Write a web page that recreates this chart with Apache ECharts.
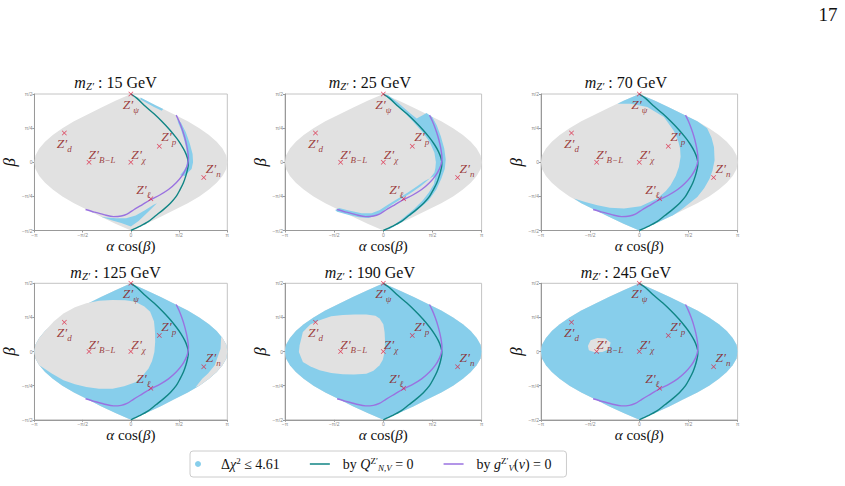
<!DOCTYPE html>
<html>
<head>
<meta charset="utf-8">
<script src="https://cdn.jsdelivr.net/npm/echarts@6/dist/echarts.min.js"></script>
<style>
html, body { margin: 0; padding: 0; background: #fff; }
#main { width: 845px; height: 486px; }
</style>
</head>
<body>
<div id="main"></div>
<script>
var chart = echarts.init(document.getElementById('main'), null, { renderer: 'svg' });

// all x values are alpha*cos(beta) in units of pi, all y values are beta in units of pi
var massLabels = ['15', '25', '70', '125', '190', '245'];
var xTicks = { '-1': '−π', '-0.5': '−π/2', '0': '0', '0.5': 'π/2', '1': 'π' };
var yTicks = { '-0.5': '−π/2', '-0.25': '−π/4', '0': '0', '0.25': 'π/4', '0.5': 'π/2' };

// outline of the scanned (alpha, beta) plane
var domainOutline = [
  [0, 0.5], [0.16, 0.45], [0.31, 0.4], [0.45, 0.35], [0.59, 0.3], [0.71, 0.25], [0.81, 0.2],
  [0.89, 0.15], [0.95, 0.1], [0.99, 0.05], [1, 0], [0.99, -0.05], [0.95, -0.1], [0.89, -0.15],
  [0.81, -0.2], [0.71, -0.25], [0.59, -0.3], [0.45, -0.35], [0.31, -0.4], [0.16, -0.45], [0, -0.5],
  [-0.16, -0.45], [-0.31, -0.4], [-0.45, -0.35], [-0.59, -0.3], [-0.71, -0.25], [-0.81, -0.2],
  [-0.89, -0.15], [-0.95, -0.1], [-0.99, -0.05], [-1, 0], [-0.99, 0.05], [-0.95, 0.1], [-0.89, 0.15],
  [-0.81, 0.2], [-0.71, 0.25], [-0.59, 0.3], [-0.45, 0.35], [-0.31, 0.4], [-0.16, 0.45]
];

// Q_{N,V} = 0 curve
var tealCurve = [
  [0, 0.5], [0.064, 0.468], [0.15, 0.41], [0.24, 0.355], [0.32, 0.3], [0.4, 0.24], [0.47, 0.18],
  [0.52, 0.13], [0.56, 0.08], [0.585, 0.035], [0.595, 0], [0.595, -0.02], [0.585, -0.06],
  [0.57, -0.1], [0.545, -0.15], [0.51, -0.2], [0.47, -0.25], [0.41, -0.3], [0.34, -0.345],
  [0.26, -0.39], [0.18, -0.435], [0.09, -0.47], [0, -0.5]
];

// g_V(nu) = 0 curve
var purpleCurve = [
  [0.47, 0.345], [0.5, 0.3], [0.53, 0.245], [0.555, 0.19], [0.575, 0.135], [0.59, 0.08],
  [0.597, 0.03], [0.59, -0.01], [0.57, -0.05], [0.53, -0.1], [0.47, -0.15], [0.39, -0.2],
  [0.3, -0.24], [0.21, -0.272], [0.12, -0.31], [0.03, -0.348], [-0.04, -0.38], [-0.1, -0.394],
  [-0.18, -0.398], [-0.28, -0.384], [-0.38, -0.365], [-0.47, -0.346]
];

// benchmark models
var zNames = ['ψ', 'd', 'B−L', 'χ', 'p', 'n', 'ℓ'];
var zX = [0, -0.69, -0.434, 0, 0.295, 0.756, 0.207];
var zBeta = [0.5, 0.214, 0, 0, 0.117, -0.112, -0.268];

// Δχ² ≤ 4.61 regions
var blue15 = [
  [[0.1, 0.475], [0.18, 0.445], [0.26, 0.415], [0.335, 0.39], [0.32, 0.378], [0.24, 0.405], [0.16, 0.435], [0.1, 0.46]],
  [[0.48, 0.32], [0.52, 0.29], [0.57, 0.22], [0.61, 0.14], [0.64, 0.06], [0.645, 0], [0.63, -0.05], [0.6, -0.07],
   [0.56, -0.1], [0.51, -0.095], [0.55, -0.06], [0.575, -0.03], [0.585, 0.02], [0.575, 0.1], [0.55, 0.17], [0.52, 0.24], [0.49, 0.29]],
  [[-0.31, -0.4], [-0.2, -0.425], [-0.1, -0.445], [0, -0.47], [0.08, -0.43], [0.17, -0.37], [0.27, -0.3], [0.24, -0.31],
   [0.15, -0.35], [0.05, -0.39], [-0.05, -0.41], [-0.15, -0.41], [-0.25, -0.405]]
];
var blue25 = [
  [[0, 0.5], [0.1, 0.44], [0.2, 0.375], [0.3, 0.3], [0.4, 0.22], [0.47, 0.15], [0.52, 0.07], [0.535, 0], [0.53, -0.04],
   [0.52, -0.075], [0.47, -0.12], [0.38, -0.175], [0.28, -0.225], [0.18, -0.27], [0.08, -0.315], [0, -0.355],
   [-0.07, -0.39], [-0.15, -0.408], [-0.25, -0.403], [-0.35, -0.386], [-0.47, -0.362], [-0.49, -0.35], [-0.45, -0.336],
   [-0.35, -0.354], [-0.22, -0.374], [-0.12, -0.374], [-0.04, -0.352], [0.05, -0.31], [0.15, -0.265], [0.25, -0.222],
   [0.34, -0.178], [0.42, -0.138], [0.5, -0.108], [0.53, -0.1], [0.515, -0.16], [0.465, -0.22], [0.4, -0.28],
   [0.31, -0.345], [0.2, -0.41], [0.1, -0.465], [0, -0.5], [0.06, -0.49], [0.2, -0.432], [0.33, -0.36], [0.46, -0.28],
   [0.54, -0.2], [0.59, -0.12], [0.625, -0.05], [0.635, 0.02], [0.62, 0.1], [0.585, 0.19], [0.545, 0.27], [0.5, 0.33],
   [0.44, 0.36], [0.4, 0.345], [0.34, 0.32], [0.27, 0.36], [0.15, 0.435], [0.05, 0.49]]
];
var blue70 = [
  [[0, 0.5], [0.16, 0.45], [0.31, 0.4], [0.45, 0.35], [0.59, 0.3], [0.69, 0.25], [0.735, 0.18], [0.76, 0.11],
   [0.766, 0.015], [0.745, -0.06], [0.715, -0.12], [0.66, -0.19], [0.59, -0.254], [0.5, -0.305], [0.42, -0.351],
   [0.34, -0.39], [0.31, -0.4], [0.16, -0.45], [0, -0.5], [-0.16, -0.45], [-0.31, -0.4], [-0.45, -0.35], [-0.59, -0.3],
   [-0.665, -0.266], [-0.55, -0.292], [-0.427, -0.315], [-0.3, -0.333], [-0.156, -0.339], [0.013, -0.322],
   [0.183, -0.266], [0.27, -0.21], [0.318, -0.168], [0.37, -0.1], [0.403, -0.034], [0.42, 0.04], [0.415, 0.1],
   [0.39, 0.17], [0.35, 0.23], [0.25, 0.331], [0.081, 0.405], [-0.088, 0.429], [-0.221, 0.429], [-0.16, 0.45]]
];
var blueFull = [domainOutline];

// grey (Δχ² > 4.61) patches left inside the blue
var gray125 = [
  [[-0.9, 0.144], [-0.8, 0.22], [-0.699, 0.279], [-0.58, 0.325], [-0.462, 0.353], [-0.33, 0.372], [-0.19, 0.377],
   [-0.06, 0.376], [0.047, 0.365], [0.14, 0.33], [0.2, 0.291], [0.24, 0.22], [0.25, 0.144], [0.252, 0.07],
   [0.244, -0.003], [0.22, -0.07], [0.183, -0.125], [0.12, -0.18], [0.047, -0.224], [-0.07, -0.255], [-0.19, -0.272],
   [-0.33, -0.272], [-0.462, -0.26], [-0.58, -0.24], [-0.699, -0.211], [-0.82, -0.16], [-0.95, -0.1], [-0.99, -0.05],
   [-1, 0], [-0.99, 0.05], [-0.95, 0.1]],
  [[0.936, 0.107], [0.93, 0.02], [0.87, -0.1], [0.8, -0.16], [0.74, -0.2], [0.67, -0.262], [0.71, -0.25], [0.81, -0.2],
   [0.89, -0.15], [0.95, -0.1], [0.99, -0.05], [1, 0], [0.99, 0.05], [0.951, 0.1]]
];
var gray190 = [
  [[-0.859, -0.003], [-0.851, 0.046], [-0.818, 0.144], [-0.74, 0.2], [-0.648, 0.23], [-0.53, 0.258], [-0.411, 0.267],
   [-0.29, 0.272], [-0.173, 0.272], [-0.08, 0.262], [-0.038, 0.243], [0, 0.2], [0.013, 0.144], [0.018, 0.07],
   [0.013, -0.003], [-0.005, -0.06], [-0.038, -0.1], [-0.1, -0.14], [-0.173, -0.162], [-0.3, -0.168], [-0.411, -0.167],
   [-0.53, -0.157], [-0.648, -0.137], [-0.74, -0.11], [-0.818, -0.076]]
];
var gray245 = [
  [[-0.523, 0.041], [-0.495, 0.083], [-0.427, 0.1], [-0.343, 0.095], [-0.292, 0.066], [-0.309, 0.017],
   [-0.376, -0.003], [-0.462, -0.003], [-0.513, 0.01]]
];

var blueRegions = [blue15, blue25, blue70, blueFull, blueFull, blueFull];
var grayPatches = [[], [], [], gray125, gray190, gray245];

// layout
var gridLefts = [30.7, 285, 541];
var gridTops = [94, 283.3];
var gridW = 196.6, gridH = 136.5;
var GRAY = '#e1e1e1', BLUE = '#87ceeb', TEAL = '#108585', PURPLE = '#9a72e0';
var SERIF = '"Liberation Serif", "DejaVu Serif", serif';

// where each model label sits relative to its marker
var labelPlace = {
  'ψ': { position: 'bottom', distance: 1 },
  'd': { position: 'bottom', distance: 1 },
  'B−L': { position: [2, -12] },
  'χ': { position: [3, -12] },
  'p': { position: [4.5, -14] },
  'n': { position: [4.5, -14] },
  'ℓ': { position: [-12, -14] }
};

function polygonSeries(name, polys, color, idx, z) {
  return polys.map(function (poly) {
    return {
      type: 'custom',
      name: name,
      xAxisIndex: idx,
      yAxisIndex: idx,
      z: z,
      silent: true,
      clip: true,
      itemStyle: { color: color },
      data: poly,
      renderItem: function (params, api) {
        if (params.dataIndex !== 0) return;
        var pts = poly.map(function (p) { return api.coord(p); });
        return { type: 'polygon', shape: { points: pts }, style: { fill: color } };
      }
    };
  });
}

var grids = [], xAxes = [], yAxes = [], series = [], graphics = [];

for (var i = 0; i < 6; i++) {
  var col = i % 3, row = Math.floor(i / 3);
  grids.push({
    left: gridLefts[col], top: gridTops[row], width: gridW, height: gridH,
    show: true, borderColor: '#c4c4c4', borderWidth: 1
  });
  xAxes.push({
    gridIndex: i, type: 'value', min: -1, max: 1, interval: 0.5,
    name: '{i|α} cos({i|β})', nameLocation: 'middle', nameGap: 6,
    nameTextStyle: {
      fontFamily: SERIF, fontSize: 15, color: '#111', verticalAlign: 'top',
      rich: { i: { fontFamily: SERIF, fontSize: 15, fontStyle: 'italic', color: '#111' } }
    },
    axisLine: { onZero: false, lineStyle: { color: '#999' } },
    axisTick: { length: 2, lineStyle: { color: '#999' } },
    axisLabel: { fontSize: 5, color: '#888', margin: 2, formatter: function (v) { return xTicks[String(v)]; } },
    splitLine: { show: false }
  });
  yAxes.push({
    gridIndex: i, type: 'value', min: -0.5, max: 0.5, interval: 0.25,
    name: 'β', nameLocation: 'middle', nameGap: 15, nameRotate: 90,
    nameTextStyle: { fontFamily: SERIF, fontSize: 17, fontStyle: 'italic', color: '#111' },
    axisLine: { onZero: false, lineStyle: { color: '#999' } },
    axisTick: { length: 2, lineStyle: { color: '#999' } },
    axisLabel: { fontSize: 5, color: '#888', margin: 2, formatter: function (v) { return yTicks[String(v)]; } },
    splitLine: { show: false }
  });

  series = series.concat(polygonSeries('domain', [domainOutline], GRAY, i, 1));
  series = series.concat(polygonSeries('dchi', blueRegions[i], BLUE, i, 2));
  series = series.concat(polygonSeries('domain', grayPatches[i], GRAY, i, 3));

  series.push({
    type: 'line', name: 'qline', xAxisIndex: i, yAxisIndex: i, data: tealCurve,
    symbol: 'none', smooth: 0.3, z: 4, silent: true,
    lineStyle: { color: TEAL, width: 1.4 }, itemStyle: { color: TEAL }
  });
  series.push({
    type: 'line', name: 'gline', xAxisIndex: i, yAxisIndex: i, data: purpleCurve,
    symbol: 'none', smooth: 0.3, z: 4, silent: true,
    lineStyle: { color: PURPLE, width: 1.4 }, itemStyle: { color: PURPLE }
  });
  series.push({
    type: 'scatter', name: 'models', xAxisIndex: i, yAxisIndex: i, z: 5, silent: true,
    symbol: 'path://M0,1L1,0L5,4L9,0L10,1L6,5L10,9L9,10L5,6L1,10L0,9L4,5Z',
    symbolSize: 5,
    itemStyle: { color: '#dc2040' },
    data: zX.map(function (x, k) {
      var place = labelPlace[zNames[k]];
      return {
        value: [x, zBeta[k]],
        label: Object.assign({ show: true, formatter: '{m|Z′}{s|' + zNames[k] + '}' }, place)
      };
    }),
    label: {
      rich: {
        m: { fontFamily: SERIF, fontStyle: 'italic', fontSize: 13.5, color: '#8b1010', lineHeight: 17, verticalAlign: 'top' },
        s: { fontFamily: SERIF, fontStyle: 'italic', fontSize: 9, color: '#8b1010', lineHeight: 17, verticalAlign: 'bottom' }
      }
    }
  });

  graphics.push({
    type: 'text',
    x: gridLefts[col] + gridW / 2 - 13.5,
    y: row === 0 ? 82 : 272,
    style: {
      text: '{i|m}{s|Z′}{t| : ' + massLabels[i] + ' GeV}',
      align: 'center', verticalAlign: 'middle',
      rich: {
        i: { fontFamily: SERIF, fontStyle: 'italic', fontSize: 16, fill: '#111', lineHeight: 20, verticalAlign: 'middle' },
        s: { fontFamily: SERIF, fontStyle: 'italic', fontSize: 10.5, fill: '#111', lineHeight: 20, verticalAlign: 'bottom' },
        t: { fontFamily: SERIF, fontSize: 16, fill: '#111', lineHeight: 20, verticalAlign: 'middle' }
      }
    }
  });
}

graphics.push({
  type: 'text', x: 828, y: 14,
  style: { text: '17', fontFamily: SERIF, fontSize: 19, fill: '#111', align: 'center', verticalAlign: 'middle' }
});

var legendText = {
  dchi: '{gap|}{t|Δ}{i|χ}{sup|2}{t| ≤ 4.61}',
  qline: '{gap|}{t|by }{i|Q}{sup|Z′}{sub|N,V}{t| = 0}',
  gline: '{gap|}{t|by }{i|g}{sup|Z′}{sub|V}{t|(}{i|ν}{t|) = 0}'
};
var LINE_ICON = 'path://M0,0L20,0L20,1.5L0,1.5Z';

chart.setOption({
  animation: false,
  grid: grids,
  xAxis: xAxes,
  yAxis: yAxes,
  legend: {
    left: 190, top: 451,
    padding: [5, 15, 5, 5],
    itemWidth: 20, itemHeight: 6, itemGap: 30,
    borderColor: '#ccc', borderWidth: 1, borderRadius: 3,
    data: [
      { name: 'dchi', icon: 'circle' },
      { name: 'qline', icon: LINE_ICON },
      { name: 'gline', icon: LINE_ICON }
    ],
    formatter: function (name) { return legendText[name]; },
    textStyle: {
      rich: {
        gap: { width: 8, lineHeight: 16 },
        t: { fontFamily: SERIF, fontSize: 14, color: '#111', lineHeight: 16, verticalAlign: 'middle' },
        i: { fontFamily: SERIF, fontSize: 14, fontStyle: 'italic', color: '#111', lineHeight: 16, verticalAlign: 'middle' },
        sup: { fontFamily: SERIF, fontSize: 9, color: '#111', lineHeight: 16, verticalAlign: 'top' },
        sub: { fontFamily: SERIF, fontSize: 9, fontStyle: 'italic', color: '#111', lineHeight: 16, verticalAlign: 'bottom' }
      }
    }
  },
  graphic: graphics,
  series: series
});
</script>
</body>
</html>
